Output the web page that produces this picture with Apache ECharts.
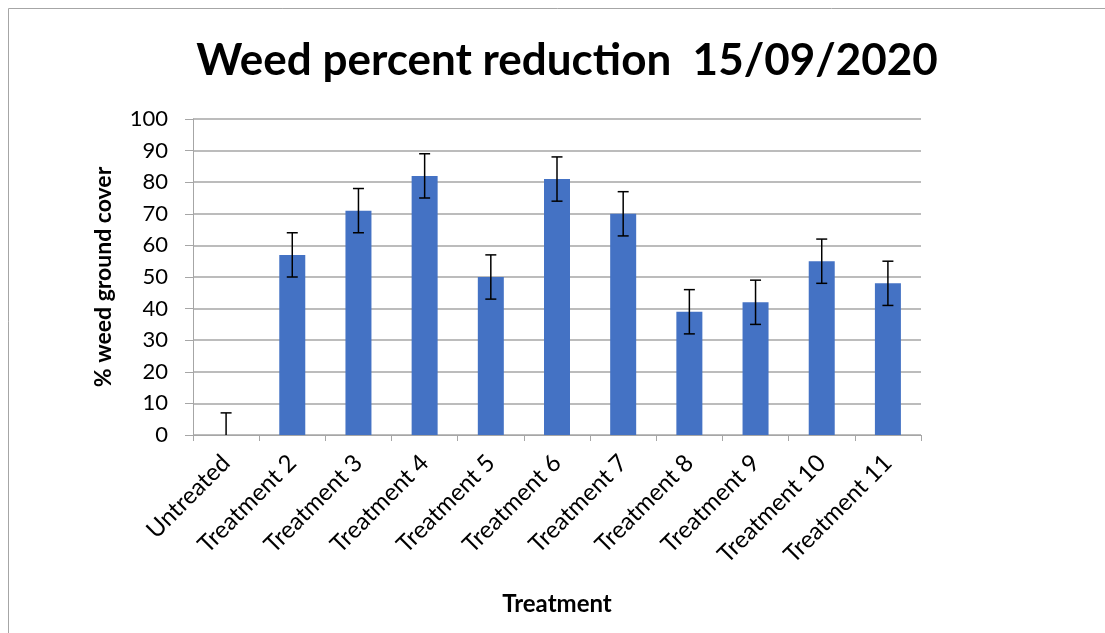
<!DOCTYPE html>
<html>
<head>
<meta charset="utf-8">
<script src="https://cdn.jsdelivr.net/npm/echarts@6/dist/echarts.min.js"></script>
<style>
html,body{margin:0;padding:0;background:#fff;}
#chart{width:1105px;height:633px;}
</style>
</head>
<body>
<div id="chart"></div>
<script>
const categories = ['Untreated','Treatment 2','Treatment 3','Treatment 4','Treatment 5','Treatment 6','Treatment 7','Treatment 8','Treatment 9','Treatment 10','Treatment 11'];
const values = [0, 57, 71, 82, 50, 81, 70, 39, 42, 55, 48];
const errors = [7, 7, 7, 7, 7, 7, 7, 7, 7, 7, 7];
const yTicks = [0, 10, 20, 30, 40, 50, 60, 70, 80, 90, 100];

const FONT = 'Lato, Carlito, "Open Sans", sans-serif';
const chart = echarts.init(document.getElementById('chart'), null, {renderer: 'canvas'});

const errData = values.map((v, i) => [i, v - errors[i], v + errors[i]]);

chart.setOption({
  animation: false,
  backgroundColor: '#ffffff',
  textStyle: {fontFamily: FONT},
  title: {
    text: 'Weed percent reduction  15/09/2020',
    left: 562,
    top: 34,
    textAlign: 'center',
    textStyle: {fontFamily: FONT, fontSize: 44, fontWeight: 'bold', color: '#000'}
  },
  graphic: [{
    type: 'rect',
    shape: {x: 8.5, y: 8.5, width: 1200, height: 800},
    style: {fill: 'none', stroke: '#a6a6a6', lineWidth: 1},
    silent: true,
    z: -1
  }],
  grid: {left: 193, right: 184, top: 119, bottom: 198, containLabel: false},
  xAxis: {
    type: 'category',
    data: categories,
    boundaryGap: true,
    name: 'Treatment',
    nameLocation: 'middle',
    nameGap: 157,
    nameTextStyle: {fontFamily: FONT, fontSize: 24, fontWeight: 'bold', color: '#000'},
    axisLine: {show: true, lineStyle: {color: '#a6a6a6', width: 1}},
    axisTick: {show: true, length: 6, lineStyle: {color: '#a6a6a6'}},
    axisLabel: {
      rotate: 45,
      interval: 0,
      margin: 24,
      fontFamily: FONT,
      fontSize: 24,
      color: '#000'
    },
    splitLine: {show: false}
  },
  yAxis: {
    type: 'value',
    min: 0,
    max: 100,
    interval: 10,
    name: '% weed ground cover',
    nameLocation: 'middle',
    nameGap: 78,
    nameRotate: 90,
    nameTextStyle: {fontFamily: FONT, fontSize: 23, fontWeight: 'bold', color: '#000'},
    axisLine: {show: true, lineStyle: {color: '#a6a6a6', width: 1}},
    axisTick: {show: true, length: 8, inside: false, lineStyle: {color: '#a6a6a6'}},
    axisLabel: {
      margin: 25,
      fontFamily: FONT,
      fontSize: 22,
      color: '#000',
      formatter: function (v) { return yTicks.indexOf(v) >= 0 ? String(v) : ''; }
    },
    splitLine: {show: true, lineStyle: {color: '#a6a6a6', width: 1.5}}
  },
  series: [
    {
      type: 'bar',
      data: values,
      barWidth: 26,
      itemStyle: {color: '#4472c4'},
      z: 2
    },
    {
      type: 'custom',
      data: errData,
      z: 5,
      renderItem: function (params, api) {
        const x = api.value(0);
        const loVal = api.value(1);
        const clipped = loVal < 0;
        const lo = api.coord([x, clipped ? 0 : loVal]);
        const hi = api.coord([x, api.value(2)]);
        const cap = 5.5;
        const st = {stroke: '#000', lineWidth: 1.5, fill: 'none'};
        const children = [
          {type: 'line', shape: {x1: lo[0], y1: lo[1], x2: hi[0], y2: hi[1]}, style: st},
          {type: 'line', shape: {x1: hi[0] - cap, y1: hi[1], x2: hi[0] + cap, y2: hi[1]}, style: st}
        ];
        if (!clipped) {
          children.push({type: 'line', shape: {x1: lo[0] - cap, y1: lo[1], x2: lo[0] + cap, y2: lo[1]}, style: st});
        }
        return {type: 'group', children: children};
      }
    }
  ]
});
</script>
</body>
</html>
